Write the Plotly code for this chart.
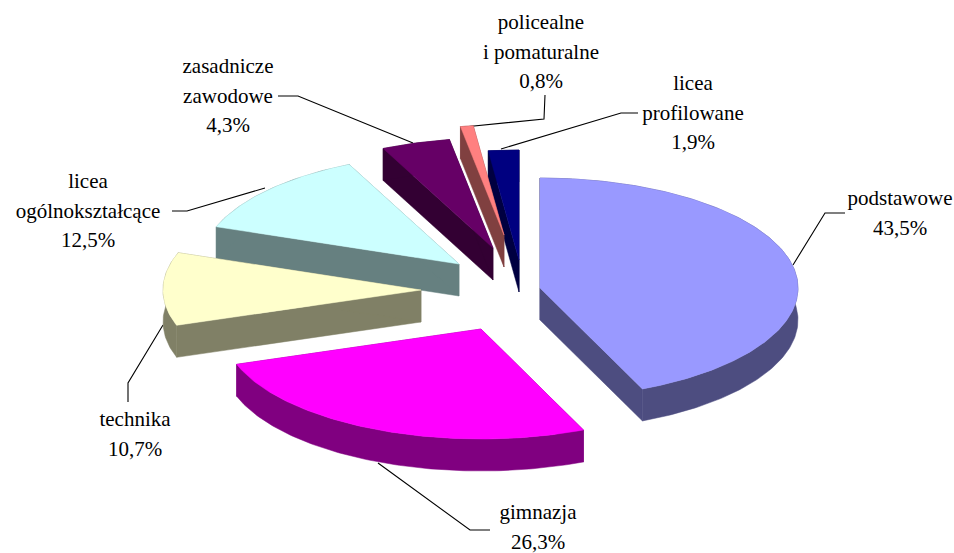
import numpy as np
import plotly.graph_objects as go

# --- data ---
categories = ["podstawowe", "gimnazja", "technika", "licea ogólnokształcące",
              "zasadnicze zawodowe", "policealne i pomaturalne", "licea profilowane"]
values = [43.5, 26.3, 10.7, 12.5, 4.3, 0.8, 1.9]
label_lines = [["podstawowe"], ["gimnazja"], ["technika"], ["licea", "ogólnokształcące"],
               ["zasadnicze", "zawodowe"], ["policealne", "i pomaturalne"], ["licea", "profilowane"]]

# --- style / layout ---
top_colors = ["#9999FF", "#FF00FF", "#FFFFCC", "#CCFFFF", "#660066", "#FF8080", "#000080"]
side_colors = ["#4D4D80", "#800080", "#808066", "#668080", "#330033", "#804040", "#000040"]
RX, RY, DEPTH = 258, 110, 32
apex = [(540, 288), (481, 329), (421, 290), (459, 264), (493, 248), (504, 235), (519, 260)]
label_pos = [(900, 200), (538, 514), (135, 421), (88, 183), (228, 68), (541, 24), (693, 85)]
LINE_H = 29.5
FONT = dict(family="Liberation Serif, Times New Roman, serif", size=21, color="black")
leaders = [
    [(845, 213), (825, 213), (793, 265)],
    [(378, 463), (470, 530), (490, 530)],
    [(163, 325), (128, 383), (128, 402)],
    [(172, 211), (187, 211), (265, 188)],
    [(278, 96), (298, 96), (413, 143)],
    [(464, 127), (544, 119), (545, 95)],
    [(501, 149), (621, 113), (638, 113)],
]
draw_order = [6, 5, 4, 3, 2, 0, 1]

fig = go.Figure()


def poly(xs, ys, color):
    fig.add_trace(go.Scatter(x=list(xs), y=list(ys), mode="lines", fill="toself",
                             fillcolor=color, line=dict(color=color, width=0.5),
                             hoverinfo="skip", showlegend=False))


# leader lines sit behind the slices
for pts in leaders:
    fig.add_trace(go.Scatter(x=[p[0] for p in pts], y=[p[1] for p in pts], mode="lines",
                             line=dict(color="black", width=1.1),
                             hoverinfo="skip", showlegend=False))

total = sum(values)
edges = np.concatenate([[0], np.cumsum(values)]) / total * 2 * np.pi

for i in draw_order:
    ax, ay = apex[i]
    t = np.linspace(edges[i], edges[i + 1], max(8, int(values[i] * 4)))
    rx = ax + RX * np.sin(t)
    ry = ay - RY * np.cos(t)
    # radial walls
    for k in (0, -1):
        poly([ax, rx[k], rx[k], ax, ax], [ay, ry[k], ry[k] + DEPTH, ay + DEPTH, ay], side_colors[i])
    # outer rim
    poly(np.r_[rx, rx[::-1], rx[0]], np.r_[ry, ry[::-1] + DEPTH, ry[0]], side_colors[i])
    # top face
    poly(np.r_[ax, rx, ax], np.r_[ay, ry, ay], top_colors[i])

text_x, text_y, text_s = [], [], []
for name_lines, v, (lx, ly) in zip(label_lines, values, label_pos):
    lines = name_lines + [f"{v:.1f}%".replace(".", ",")]
    for j, s in enumerate(lines):
        text_x.append(lx)
        text_y.append(ly + j * LINE_H)
        text_s.append(s)
fig.add_trace(go.Scatter(x=text_x, y=text_y, text=text_s, mode="text",
                         textposition="middle center", textfont=FONT,
                         cliponaxis=False, hoverinfo="skip", showlegend=False))

fig.update_layout(
    width=954, height=553, margin=dict(l=0, r=0, t=0, b=0),
    paper_bgcolor="white", plot_bgcolor="white", showlegend=False,
    xaxis=dict(range=[0, 954], visible=False, fixedrange=True),
    yaxis=dict(range=[553, 0], visible=False, fixedrange=True),
)
fig.write_html("out.html", config=dict(displayModeBar=False),
               post_script="document.body.style.margin='0';document.body.style.overflow='hidden';")
